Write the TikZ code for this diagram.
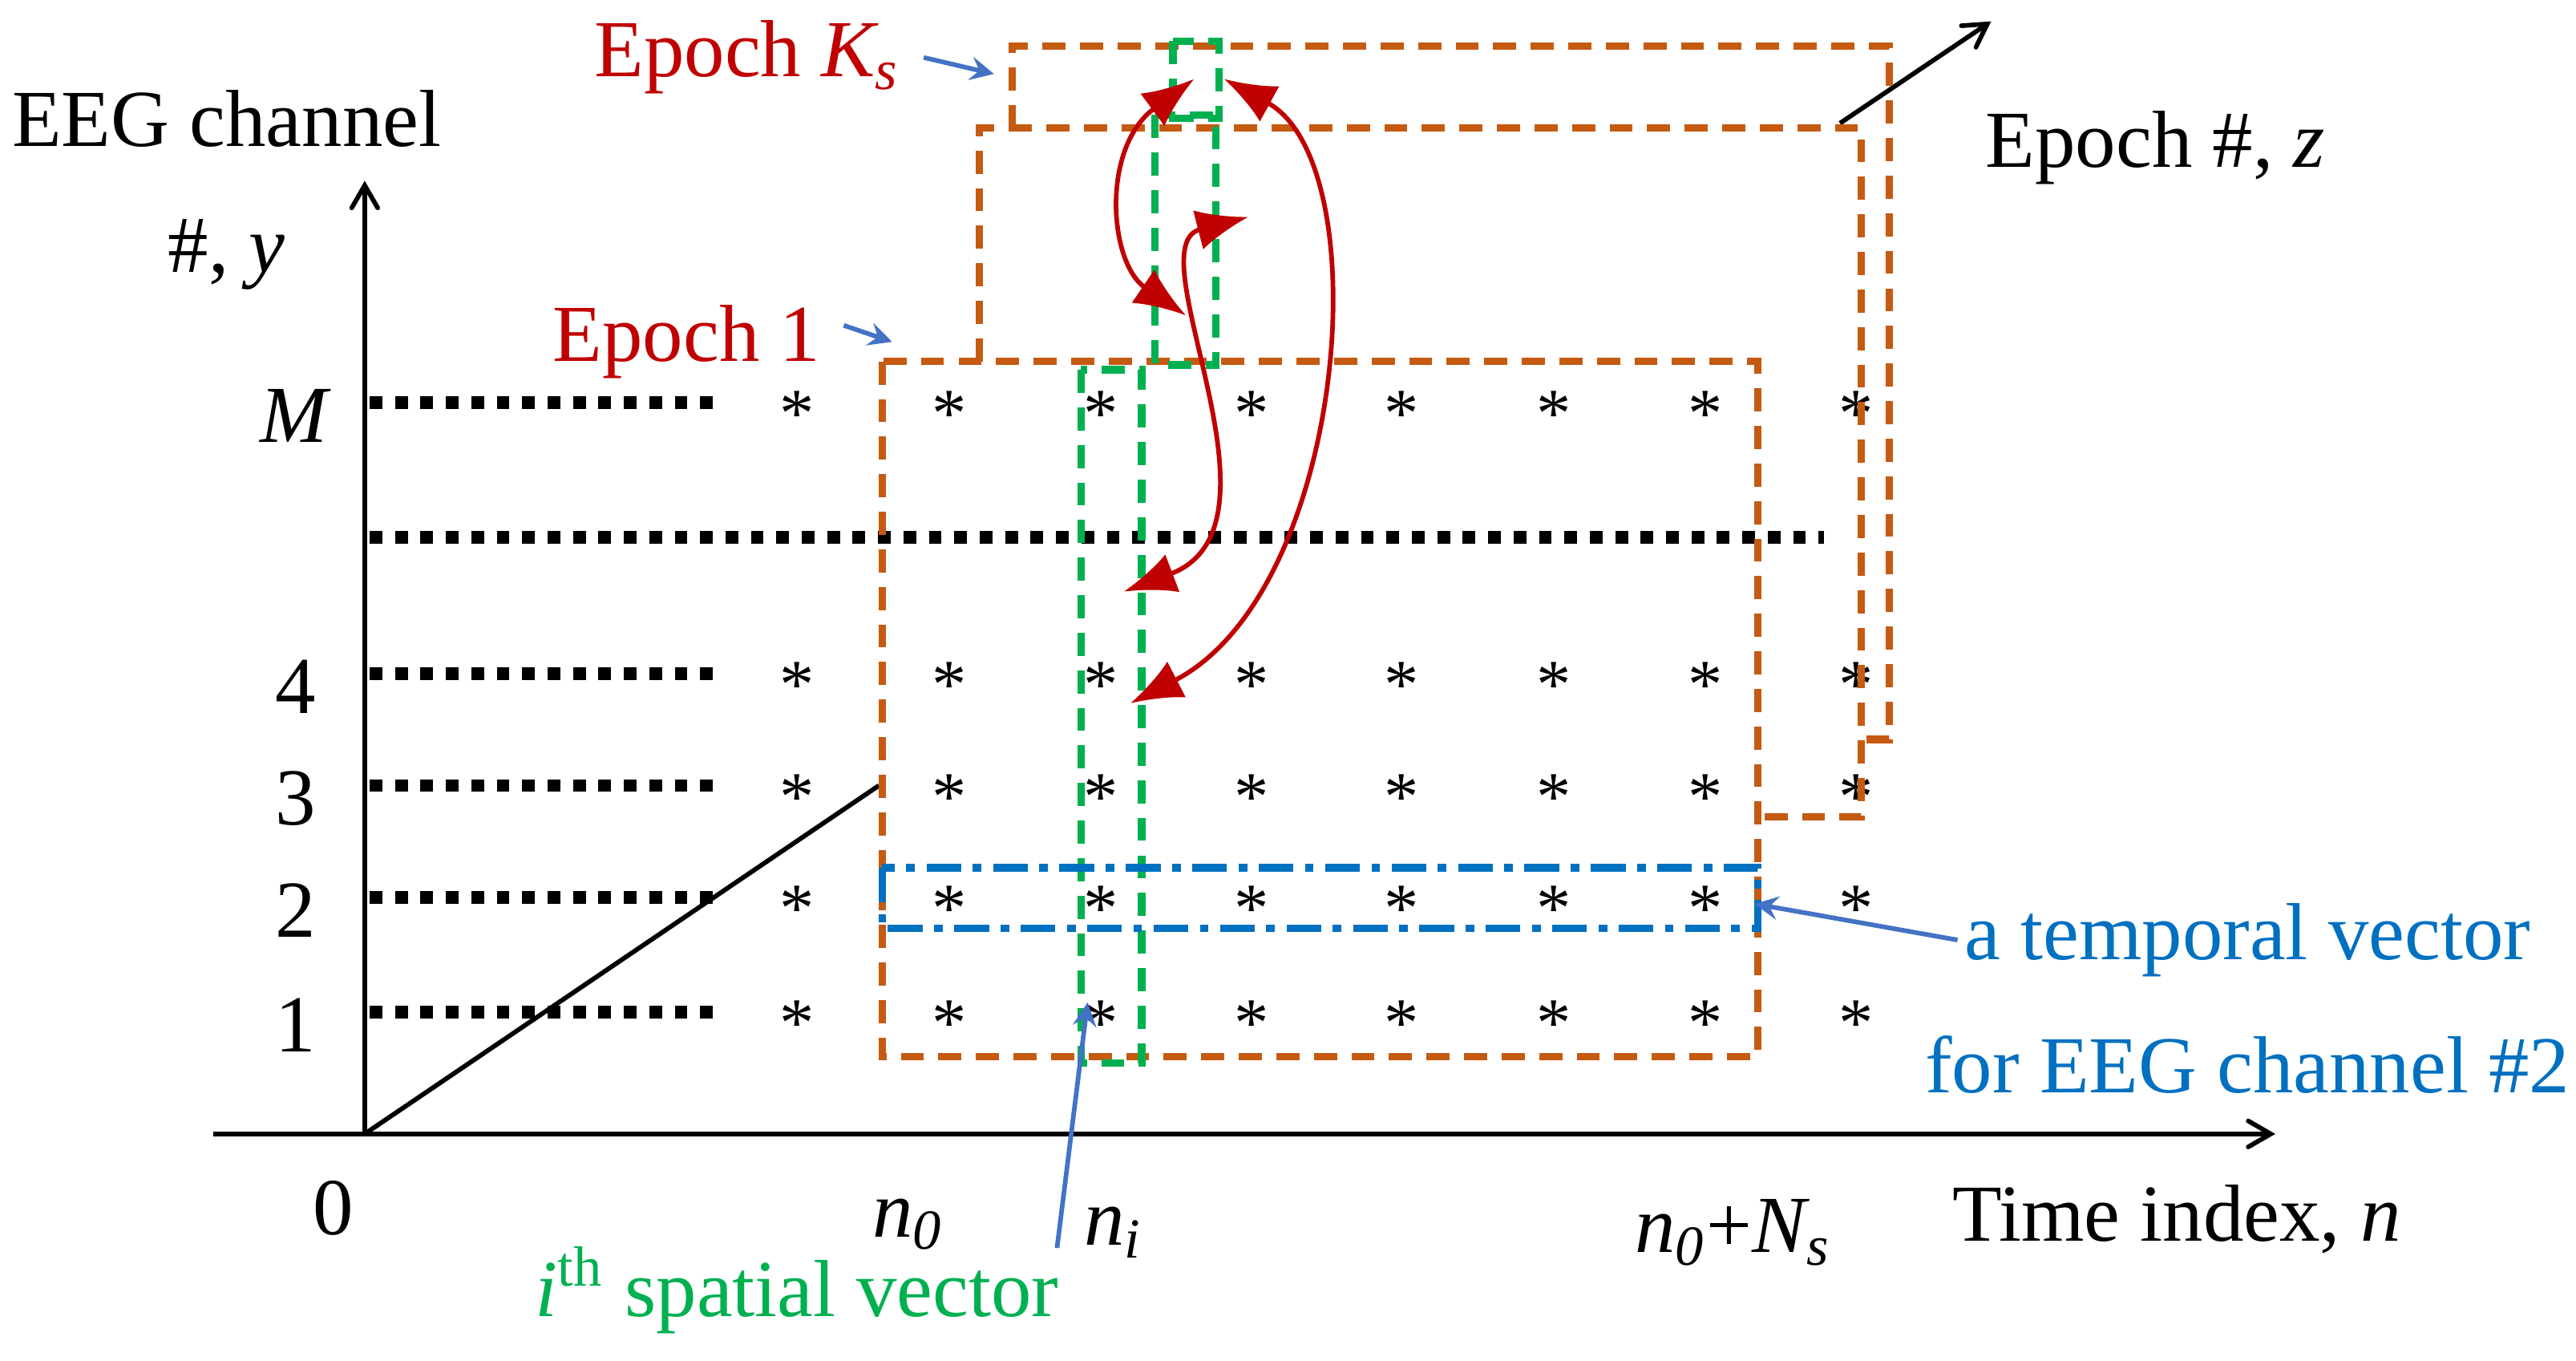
\documentclass[tikz,border=0pt]{standalone}
\usepackage{fontspec}
\setmainfont{Liberation Serif}
\usetikzlibrary{arrows,arrows.meta,positioning}
\definecolor{epochred}{RGB}{192,0,0}
\definecolor{boxorange}{RGB}{197,90,17}
\definecolor{vecblue}{RGB}{0,112,192}
\definecolor{vecgreen}{RGB}{0,176,80}
\definecolor{ptrblue}{RGB}{68,114,196}
\begin{document}
\begin{tikzpicture}[x=0.01cm,y=-0.01cm,
	axis/.style={thick, ->, >=angle 60},
	lbl/.style={font=\fontsize{14}{16}\selectfont, inner sep=1pt},
	dots/.style={line width=2.2pt, dash pattern=on 2.2pt off 2.2pt},
	epoch/.style={boxorange, line width=1.3pt, dash pattern=on 4pt off 2.5pt},
	spatial/.style={vecgreen, line width=1.3pt, dash pattern=on 4pt off 2.5pt},
	temporal/.style={vecblue, line width=1.3pt, dash pattern=on 6pt off 2pt on 1.5pt off 2pt},
	swap/.style={epochred, {Latex[length=9pt,width=7pt]}-{Latex[length=9pt,width=7pt]}, line width=0.8pt},
	ptr/.style={ptrblue, ->, >=stealth, thick}]
\useasboundingbox (0,0) rectangle (1568,828);

% axes
\coordinate (o) at (222,690);
\coordinate (ytop) at (222,110);
\coordinate (xl) at (130,690);
\coordinate (xr) at (1385,690);
\coordinate (zc) at (535,478);
\coordinate (zs) at (1120,75);
\coordinate (ze) at (1212,13);
\draw[axis] (o) -- (ytop);
\draw[axis] (xl) -- (xr);
\draw[thick] (o) -- (zc);
\draw[axis] (zs) -- (ze);

\node[lbl] (ych) at (138,72) {EEG channel};
\node[lbl] (yno) at (138,155) {\#, \textit{y}};
\node[lbl] (zero) at (203,735) {0};
\node[lbl] (zlab) at (1312,90) {Epoch \#, \textit{z}};
\node[lbl] (xlab) at (1325,742) {Time index, \textit{n}};
\node[lbl] (nz) at (553,745) {\textit{n\textsubscript{0}}};
\node[lbl] (ni) at (678,750) {\textit{n\textsubscript{i}}};
\node[lbl] (nN) at (1055,750) {\textit{n\textsubscript{0}}+\textit{N\textsubscript{s}}};

% channel rows
\foreach \nm/\lab/\yy in {M/\textit{M}/245,4/4/410,3/3/478,2/2/546,1/1/616}{
	\node[lbl] (r\nm) at (180,\yy+8) {\lab};
	\coordinate (ra\nm) at (225,\yy);
	\coordinate (rb\nm) at (440,\yy);
	\draw[dots] (ra\nm) -- (rb\nm);
	\foreach \xx in {485,578,670,762,853,946,1038,1130}
		\node[font=\large] at (\xx,\yy+7) {*};
}
\coordinate (gapa) at (225,327);
\coordinate (gapb) at (1110,327);
\draw[dots] (gapa) -- (gapb);

% epochs
\draw[epoch] (616,78) -- (616,28) -- (1150,28) -- (1150,450) -- (1133,450);
\draw[epoch] (596,220) -- (596,78) -- (1133,78) -- (1133,497) -- (1070,497);
\draw[epoch] (537,220) rectangle (1070,643);

% vectors
\draw[spatial] (714,25) rectangle (742,72);
\draw[spatial] (703,70) rectangle (740,222);
\draw[spatial] (658,225) rectangle (695,647);
\draw[temporal] (537,528) rectangle (1070,565);

% swaps
\draw[swap] (727,48) .. controls (670,90) and (675,160) .. (722,192);
\draw[swap] (745,48) .. controls (840,100) and (820,360) .. (688,428);
\draw[swap] (760,132) .. controls (690,150) and (790,320) .. (684,360);

% labels with pointers
\node[lbl, text=epochred] (eks) at (455,35) {Epoch \textit{K\textsubscript{s}}};
\node[lbl, text=epochred] (e1) at (418,208) {Epoch 1};
\coordinate (eksp) at (605,45);
\coordinate (e1p) at (543,208);
\draw[ptr] (eks.east) ++(10,0) -- (eksp);
\draw[ptr] (e1.east) ++(10,-10) -- (e1p);

\node[lbl, text=vecblue] (tv1) at (1368,572) {a temporal vector};
\node[lbl, text=vecblue] (tv2) at (1368,648) {for EEG channel \#2};
\coordinate (tvp) at (1068,550);
\draw[ptr] (tv1.west) -- (tvp);

\node[lbl, text=vecgreen] (sv) at (485,785) {\textit{i}\textsuperscript{th} spatial vector};
\coordinate (svp) at (662,610);
\draw[ptr] (sv.north east) ++(-5,5) -- (svp);
\end{tikzpicture}
\end{document}
